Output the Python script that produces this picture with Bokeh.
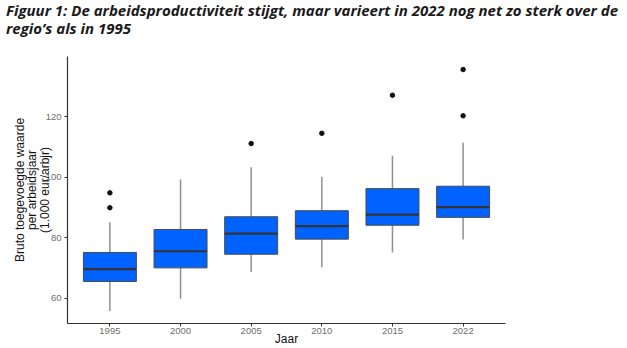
from bokeh.plotting import figure
from bokeh.models import ColumnDataSource, Range1d, FixedTicker, Div
from bokeh.layouts import column
from bokeh.transform import dodge
from bokeh.embed import file_html
from bokeh.resources import INLINE

# ---- data ----
years = ["1995", "2000", "2005", "2010", "2015", "2022"]
lower = [55.7, 59.8, 68.6, 70.2, 75.1, 79.4]
q1 = [65.5, 70.0, 74.5, 79.5, 84.1, 86.7]
median = [69.6, 75.5, 81.3, 83.8, 87.6, 90.1]
q3 = [75.1, 82.7, 86.9, 88.9, 96.2, 97.0]
upper = [85.1, 99.2, 103.3, 100.1, 107.1, 111.4]
outlier_years = ["1995", "1995", "2005", "2010", "2015", "2022", "2022"]
outlier_values = [94.8, 89.9, 111.1, 114.5, 127.1, 135.6, 120.3]
y_ticks = [60, 80, 100, 120]

title_line1 = "Figuur 1: De arbeidsproductiviteit stijgt, maar varieert in 2022 nog net zo sterk over de"
title_line2 = "regio\u2019s als in 1995"
x_label = "Jaar"
y_label = "Bruto toegevoegde waarde\nper arbeidsjaar\n(1.000 eur/arbjr)"

pos = {yr: i + 1 for i, yr in enumerate(years)}
xs = [pos[y] for y in years]

box_src = ColumnDataSource(dict(x=xs, lower=lower, q1=q1, median=median, q3=q3, upper=upper))
out_src = ColumnDataSource(dict(x=[pos[y] for y in outlier_years], y=outlier_values))

title_div = Div(text=title_line1 + "<br>" + title_line2, width=627, height=38, margin=(0, 0, 0, 0),
                styles={"font-family": "'Open Sans', sans-serif", "font-weight": "bold",
                        "font-style": "italic", "font-size": "15px", "line-height": "18px",
                        "color": "#1a1a1a", "padding-left": "6px", "padding-top": "1px",
                        "white-space": "nowrap"})

p = figure(width=627, height=310, output_backend="svg", toolbar_location=None,
           x_range=Range1d(0.4, 6.6), y_range=Range1d(51.6, 139.9),
           min_border_left=67, min_border_right=122, min_border_top=18, min_border_bottom=23,
           margin=(0, 0, 0, 0),
           background_fill_color="white", border_fill_color="white", outline_line_color=None)

# whiskers
p.segment(x0="x", y0="q3", x1="x", y1="upper", source=box_src, line_color="#8f8f8f", line_width=1.5)
p.segment(x0="x", y0="q1", x1="x", y1="lower", source=box_src, line_color="#8f8f8f", line_width=1.5)
# boxes
p.vbar(x="x", width=0.75, bottom="q1", top="q3", source=box_src,
       fill_color="#0063FF", line_color="#4a4a4a", line_width=1)
# medians
p.segment(x0=dodge("x", -0.375), y0="median", x1=dodge("x", 0.375), y1="median",
          source=box_src, line_color="#333333", line_width=2.2)
# outliers
p.scatter(x="x", y="y", source=out_src, size=4.5, color="#111111")

p.xgrid.visible = False
p.ygrid.visible = False

p.xaxis.ticker = FixedTicker(ticks=xs)
p.xaxis.major_label_overrides = {x: y for x, y in zip(xs, years)}
p.yaxis.ticker = FixedTicker(ticks=y_ticks)
p.xaxis.minor_tick_line_color = None
p.yaxis.minor_tick_line_color = None

for ax in (p.xaxis[0], p.yaxis[0]):
    ax.axis_line_color = "#333333"
    ax.axis_line_width = 1.2
    ax.major_tick_line_color = "#333333"
    ax.major_tick_in = 0
    ax.major_tick_out = 3
    ax.major_label_text_color = "#6e6e6e"
    ax.major_label_text_font = "Liberation Sans"
    ax.major_label_text_font_size = "9.5px"
    ax.axis_label_text_font = "Liberation Sans"
    ax.axis_label_text_font_style = "normal"
    ax.axis_label_text_color = "#111111"

p.xaxis.axis_label = x_label
p.xaxis.axis_label_text_font_size = "12px"
p.xaxis.major_label_standoff = 1
p.xaxis.axis_label_standoff = -5
p.yaxis.axis_label = y_label
p.yaxis.axis_label_text_font_size = "12px"
p.yaxis.axis_label_text_line_height = 0.87
p.yaxis.major_label_standoff = 3
p.yaxis.axis_label_standoff = -9

layout = column(title_div, p, spacing=0, margin=(0, 0, 0, 0))

open("out.html", "w").write(file_html(layout, INLINE))
